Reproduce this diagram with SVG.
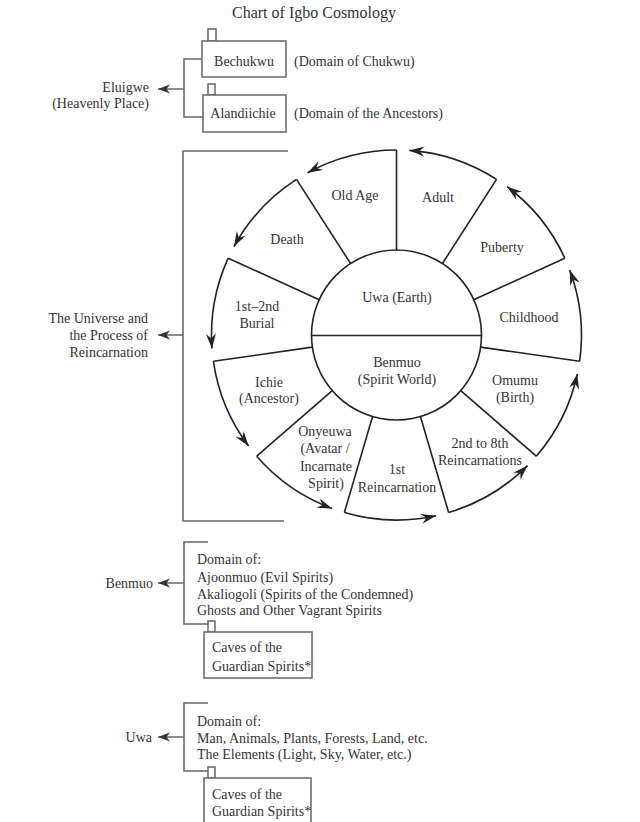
<svg xmlns="http://www.w3.org/2000/svg" width="640" height="822" viewBox="0 0 640 822">
<defs>
<style>
text{font-family:"Liberation Serif","DejaVu Serif",serif;font-size:14px;fill:#333}
.t{font-size:16px}
.m{text-anchor:middle}
.e{text-anchor:end}
.w{fill:none;stroke:#222;stroke-width:1.6}
.b{fill:none;stroke:#666;stroke-width:1.5}
.bx{fill:#fff;stroke:#666;stroke-width:1.5}
</style>
<marker id="ah" viewBox="0 0 15 10" refX="15" refY="5" markerWidth="15" markerHeight="10" markerUnits="userSpaceOnUse" orient="auto" overflow="visible">
<path d="M0,0 L15,5 L0,10 L5,5 Z" fill="#222"/>
</marker>
<marker id="as" viewBox="0 0 12 9" refX="12" refY="4.5" markerWidth="12" markerHeight="9" markerUnits="userSpaceOnUse" orient="auto" overflow="visible">
<path d="M0,0 L12,4.5 L0,9 L3.5,4.5 Z" fill="#333"/>
</marker>
</defs>
<rect width="640" height="822" fill="#fff"/>
<text class="t m" x="314" y="17.5">Chart of Igbo Cosmology</text>

<g id="eluigwe">
<text class="e" x="149" y="92">Eluigwe</text>
<text class="e" x="149" y="108">(Heavenly Place)</text>
</g>
<g id="bechukwu">
<rect class="bx" x="208" y="29" width="8" height="12"/>
<rect class="bx" x="202" y="41" width="84" height="36"/>
<text class="m" x="244" y="66">Bechukwu</text>
<text x="294" y="66">(Domain of Chukwu)</text>
</g>
<g id="alandiichie">
<rect class="bx" x="208" y="84" width="7" height="11"/>
<rect class="bx" x="203" y="95" width="83" height="37"/>
<text class="m" x="243" y="118">Alandiichie</text>
<text x="294" y="118">(Domain of the Ancestors)</text>
</g>

<g id="universe">
<text class="e" x="148" y="323">The Universe and</text>
<text class="e" x="148" y="340">the Process of</text>
<text class="e" x="148" y="357">Reincarnation</text>
</g>

<g id="core">
<circle class="w" cx="396.5" cy="335" r="85"/>
<line class="w" x1="311.5" y1="335.5" x2="481.5" y2="335.5"/>
<text class="m" x="397" y="302">Uwa (Earth)</text>
<text class="m" x="397" y="367">Benmuo</text>
<text class="m" x="397" y="384">(Spirit World)</text>
</g>

<g id="seg-oldage"><line class="w" x1="396.5" y1="150" x2="396.5" y2="250"/><text class="m" x="355" y="200">Old Age</text></g>
<g id="seg-death"><line class="w" x1="296.5" y1="179.4" x2="350.55" y2="263.49"/><text class="m" x="287" y="244">Death</text></g>
<g id="seg-burial"><line class="w" x1="228.2" y1="258.15" x2="319.18" y2="299.69"/><text class="m" x="257" y="311">1st–2nd</text><text class="m" x="257" y="328">Burial</text></g>
<g id="seg-ichie"><line class="w" x1="213.4" y1="361.33" x2="312.37" y2="347.1"/><text class="m" x="269" y="387">Ichie</text><text class="m" x="269" y="403">(Ancestor)</text></g>
<g id="seg-onyeuwa"><line class="w" x1="256.7" y1="456.2" x2="332.27" y2="390.67"/><text class="m" x="325" y="436">Onyeuwa</text><text class="m" x="325" y="453">(Avatar /</text><text class="m" x="326" y="471">Incarnate</text><text class="m" x="326" y="488">Spirit)</text></g>
<g id="seg-1st"><line class="w" x1="344.39" y1="512.5" x2="372.56" y2="416.56"/><text class="m" x="397" y="474">1st</text><text class="m" x="397" y="492">Reincarnation</text></g>
<g id="seg-2nd8th"><line class="w" x1="448.61" y1="512.5" x2="420.44" y2="416.56"/><text class="m" x="480" y="448">2nd to 8th</text><text class="m" x="480" y="465">Reincarnations</text></g>
<g id="seg-omumu"><line class="w" x1="536.3" y1="456.2" x2="460.73" y2="390.67"/><text class="m" x="515" y="385">Omumu</text><text class="m" x="515" y="402">(Birth)</text></g>
<g id="seg-childhood"><line class="w" x1="579.6" y1="361.33" x2="480.63" y2="347.1"/><text class="m" x="529" y="322">Childhood</text></g>
<g id="seg-puberty"><line class="w" x1="564.8" y1="258.15" x2="473.82" y2="299.69"/><text class="m" x="502" y="252">Puberty</text></g>
<g id="seg-adult"><line class="w" x1="496.5" y1="179.4" x2="442.45" y2="263.49"/><text class="m" x="438" y="202">Adult</text></g>

<g id="benmuo">
<text class="e" x="153" y="588">Benmuo</text>
<text x="197" y="564">Domain of:</text>
<text x="197" y="582">Ajoonmuo (Evil Spirits)</text>
<text x="197" y="599">Akaliogoli (Spirits of the Condemned)</text>
<text x="197" y="615">Ghosts and Other Vagrant Spirits</text>
</g>
<g id="caves1">
<rect class="bx" x="208" y="621" width="7" height="11"/>
<rect class="bx" x="204" y="632" width="108" height="46"/>
<text x="212" y="652">Caves of the</text>
<text x="212" y="671">Guardian Spirits*</text>
</g>

<g id="uwa">
<text class="e" x="152" y="742">Uwa</text>
<text x="197" y="726">Domain of:</text>
<text x="197" y="743">Man, Animals, Plants, Forests, Land, etc.</text>
<text x="197" y="759">The Elements (Light, Sky, Water, etc.)</text>
</g>
<g id="caves2">
<rect class="bx" x="208" y="767" width="7" height="11"/>
<rect class="bx" x="204" y="778" width="107" height="60"/>
<text x="212" y="799">Caves of the</text>
<text x="212" y="816">Guardian Spirits*</text>
</g>

<g id="connectors">
<path class="b" d="M202,59 H184 V117 H203"/>
<line class="b" x1="184" y1="89" x2="158" y2="89" marker-end="url(#as)"/>
<path class="b" d="M288,151 H183 V521 H284"/>
<line class="b" x1="183" y1="335" x2="158" y2="335" marker-end="url(#as)"/>
<path class="b" d="M208,542 H184 V624 H208"/>
<line class="b" x1="184" y1="583" x2="158" y2="583" marker-end="url(#as)"/>
<path class="b" d="M208,703 H184 V771 H208"/>
<line class="b" x1="184" y1="737" x2="158" y2="737" marker-end="url(#as)"/>

<path class="w" d="M396.5,150 A185,185 0 0 0 307.6,172.8" marker-end="url(#ah)"/>
<path class="w" d="M296.5,179.4 A185,185 0 0 0 234.0,246.6" marker-end="url(#ah)"/>
<path class="w" d="M228.2,258.15 A185,185 0 0 0 212.0,348.5" marker-end="url(#ah)"/>
<path class="w" d="M213.4,361.33 A185,185 0 0 0 248.6,446.1" marker-end="url(#ah)"/>
<path class="w" d="M256.7,456.2 A185,185 0 0 0 332.1,508.4" marker-end="url(#ah)"/>
<path class="w" d="M344.39,512.5 A185,185 0 0 0 436.1,515.7" marker-end="url(#ah)"/>
<path class="w" d="M448.61,512.5 A185,185 0 0 0 527.5,465.6" marker-end="url(#ah)"/>
<path class="w" d="M536.3,456.2 A185,185 0 0 0 577.3,374.0" marker-end="url(#ah)"/>
<path class="w" d="M579.6,361.33 A185,185 0 0 0 569.7,270.1" marker-end="url(#ah)"/>
<path class="w" d="M564.8,258.15 A185,185 0 0 0 507.1,186.7" marker-end="url(#ah)"/>
<path class="w" d="M496.5,179.4 A185,185 0 0 0 409.4,150.4" marker-end="url(#ah)"/>
</g>
</svg>
